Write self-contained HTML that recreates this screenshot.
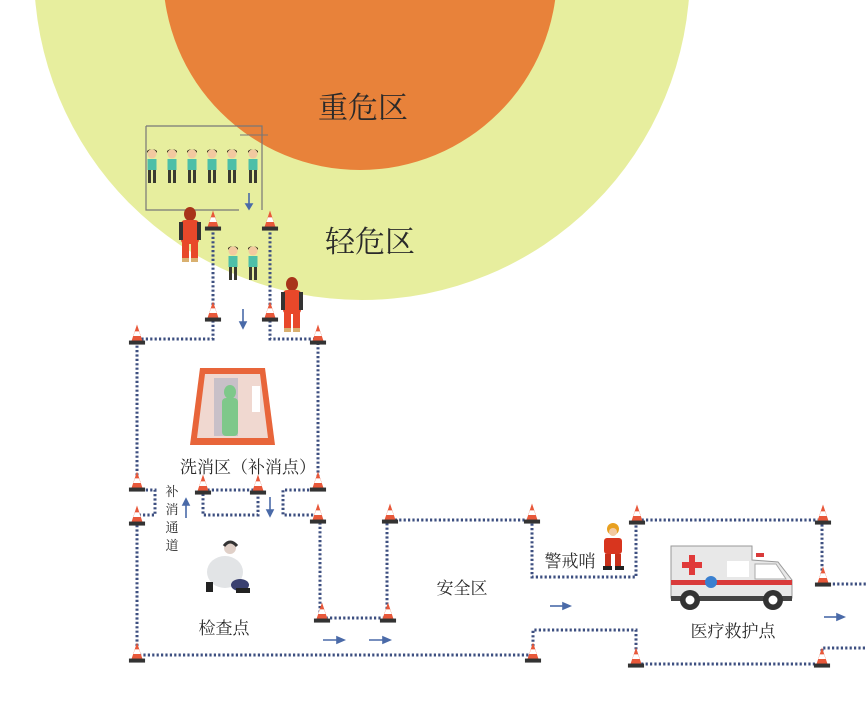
<!DOCTYPE html>
<html><head><meta charset="utf-8">
<style>
html,body{margin:0;padding:0;background:#fff;}
svg{display:block;}
.t{font-family:"Liberation Serif","Noto Serif CJK SC",serif;fill:#2a2a2a;}
</style></head>
<body>
<svg width="866" height="708" viewBox="0 0 866 708" xmlns="http://www.w3.org/2000/svg">
<defs>
<g id="cone" transform="scale(1.15)">
  <polygon points="-5,-2 0,-17 5,-2" fill="#e8583a"/>
  <polygon points="-3.2,-7 -1.8,-11 1.8,-11 3.2,-7" fill="#fff"/>
  <rect x="-7" y="-3" width="14" height="3.5" fill="#333"/>
</g>
<g id="kid">
  <circle cx="0" cy="-30" r="4.5" fill="#f2c9a0"/>
  <path d="M-5,-31 Q0,-39 5,-31 L5,-33 Q0,-37 -5,-33Z" fill="#3a2a20"/>
  <rect x="-4.5" y="-25" width="9" height="11" fill="#4dbfa8"/>
  <rect x="-4" y="-14" width="3" height="13" fill="#3a3a30"/>
  <rect x="1" y="-14" width="3" height="13" fill="#3a3a30"/>
</g>
<g id="hazmat">
  <ellipse cx="0" cy="-48" rx="6" ry="7" fill="#a8341a"/>
  <rect x="-9" y="-42" width="18" height="24" rx="4" fill="#e8482a"/>
  <rect x="-11" y="-40" width="4" height="18" fill="#333"/>
  <rect x="7" y="-40" width="4" height="18" fill="#333"/>
  <rect x="-8" y="-20" width="7" height="17" fill="#e8482a"/>
  <rect x="1" y="-20" width="7" height="17" fill="#e8482a"/>
  <rect x="-8" y="-4" width="7" height="4" fill="#d9b070"/>
  <rect x="1" y="-4" width="7" height="4" fill="#d9b070"/>
</g>
</defs>

<circle cx="362" cy="-28" r="328" fill="#e7ee9e"/>
<circle cx="360" cy="-27" r="197" fill="#e8823a"/>
<text class="t" x="363" y="118" font-size="30" text-anchor="middle" fill="#4a3020">重危区</text>
<text class="t" x="370" y="252" font-size="30" text-anchor="middle" fill="#3a3a2a">轻危区</text>

<path d="M146,126 H262 V210" fill="none" stroke="#777" stroke-width="1.2"/>
<path d="M146,126 V210 H239" fill="none" stroke="#777" stroke-width="1.2"/>
<path d="M240,135 H268" stroke="#777" stroke-width="1"/>

<use href="#kid" x="152" y="184"/><use href="#kid" x="172" y="184"/><use href="#kid" x="192" y="184"/>
<use href="#kid" x="212" y="184"/><use href="#kid" x="232" y="184"/><use href="#kid" x="253" y="184"/>
<use href="#kid" x="233" y="281"/><use href="#kid" x="253" y="281"/>
<use href="#hazmat" x="190" y="262"/>
<use href="#hazmat" x="292" y="332"/>

<g fill="none" stroke="#3d4f80" stroke-width="3" stroke-dasharray="2.2,2.2">
  <path d="M213,228 V339 H137 V480"/>
  <path d="M270,228 V339 H318 V480"/>
  <path d="M137,490 H155 V515 H137"/>
  <path d="M137,525 V655 H532"/>
  <path d="M203,490 H258 V515 H203 Z"/>
  <path d="M318,490 H283 V515 H318"/>
  <path d="M318,520 H320 V618 H387 V520 H532 V577 H636 V520 H822 V584 H866"/>
  <path d="M533,655 V630 H636 V664 H822 V648 H866"/>
</g>

<use href="#cone" x="213" y="230"/><use href="#cone" x="270" y="230"/>
<use href="#cone" x="213" y="321"/><use href="#cone" x="270" y="321"/>
<use href="#cone" x="137" y="344"/><use href="#cone" x="318" y="344"/>
<use href="#cone" x="137" y="491"/><use href="#cone" x="203" y="494"/>
<use href="#cone" x="258" y="494"/><use href="#cone" x="318" y="491"/>
<use href="#cone" x="137" y="525"/><use href="#cone" x="318" y="523"/>
<use href="#cone" x="390" y="523"/><use href="#cone" x="532" y="523"/>
<use href="#cone" x="322" y="622"/><use href="#cone" x="388" y="622"/>
<use href="#cone" x="137" y="662"/><use href="#cone" x="533" y="662"/>
<use href="#cone" x="637" y="524"/><use href="#cone" x="823" y="524"/>
<use href="#cone" x="823" y="586"/><use href="#cone" x="636" y="667"/>
<use href="#cone" x="822" y="667"/>

<g stroke="#4a6aa8" stroke-width="1.6" fill="#4a6aa8">
  <path d="M249,193 V207"/><path d="M246,204 L249,209 L252,204Z"/>
  <path d="M243,309 V325"/><path d="M240,322 L243,328 L246,322Z"/>
  <path d="M186,518 V502"/><path d="M183,505 L186,499 L189,505Z"/>
  <path d="M270,497 V513"/><path d="M267,510 L270,516 L273,510Z"/>
  <path d="M323,640 H340"/><path d="M337,637 L344,640 L337,643Z"/>
  <path d="M369,640 H386"/><path d="M383,637 L390,640 L383,643Z"/>
  <path d="M550,606 H566"/><path d="M563,603 L570,606 L563,609Z"/>
  <path d="M824,617 H840"/><path d="M837,614 L844,617 L837,620Z"/>
</g>

<polygon points="200,368 265,368 275,445 190,445" fill="#e8653a"/>
<polygon points="205,374 260,374 268,438 197,438" fill="#f0d8d0"/>
<rect x="214" y="378" width="24" height="58" fill="#c8c0c8"/>
<ellipse cx="230" cy="392" rx="6" ry="7" fill="#7ec88a"/>
<rect x="222" y="398" width="16" height="38" rx="4" fill="#7ec88a"/>
<rect x="252" y="386" width="8" height="26" fill="#fff"/>
<text class="t" x="248" y="473" font-size="17" text-anchor="middle">洗消区（补消点）</text>

<text class="t" font-size="13" x="172" y="496" text-anchor="middle">补</text>
<text class="t" font-size="13" x="172" y="514" text-anchor="middle">消</text>
<text class="t" font-size="13" x="172" y="532" text-anchor="middle">通</text>
<text class="t" font-size="13" x="172" y="550" text-anchor="middle">道</text>

<ellipse cx="225" cy="572" rx="18" ry="16" fill="#e2e4e6"/>
<circle cx="230" cy="548" r="6" fill="#e0d0c8"/>
<path d="M224,546 Q230,538 237,546" stroke="#333" stroke-width="3" fill="none"/>
<ellipse cx="240" cy="585" rx="9" ry="6" fill="#3a4070"/>
<rect x="206" y="582" width="7" height="10" fill="#222"/>
<rect x="236" y="588" width="14" height="5" fill="#222"/>
<text class="t" x="224" y="634" font-size="17" text-anchor="middle">检查点</text>

<text class="t" x="462" y="594" font-size="17" text-anchor="middle">安全区</text>
<text class="t" x="570" y="567" font-size="17" text-anchor="middle">警戒哨</text>

<circle cx="613" cy="529" r="6" fill="#e8a020"/>
<circle cx="613" cy="532" r="4" fill="#f2c9a0"/>
<rect x="604" y="538" width="18" height="16" rx="3" fill="#d8351e"/>
<rect x="605" y="554" width="6" height="14" fill="#c8301a"/>
<rect x="615" y="554" width="6" height="14" fill="#c8301a"/>
<rect x="603" y="566" width="9" height="4" fill="#222"/>
<rect x="615" y="566" width="9" height="4" fill="#222"/>

<path d="M671,546 H752 V560 L778,562 L792,580 V598 H671 Z" fill="#e8e8e8" stroke="#999" stroke-width="1"/>
<path d="M755,564 H776 L786,579 H755Z" fill="#fff" stroke="#aaa"/>
<rect x="727" y="561" width="22" height="16" fill="#fff"/>
<rect x="671" y="580" width="121" height="5" fill="#d93a3a"/>
<rect x="689" y="555" width="6" height="20" fill="#e03a3a"/>
<rect x="682" y="562" width="20" height="6" fill="#e03a3a"/>
<circle cx="711" cy="582" r="6" fill="#3a80d0"/>
<rect x="671" y="596" width="121" height="5" fill="#444"/>
<circle cx="690" cy="600" r="10" fill="#333"/><circle cx="690" cy="600" r="4.5" fill="#fff"/>
<circle cx="773" cy="600" r="10" fill="#333"/><circle cx="773" cy="600" r="4.5" fill="#fff"/>
<rect x="756" y="553" width="8" height="4" fill="#d93a3a"/>
<text class="t" x="733" y="637" font-size="17" text-anchor="middle">医疗救护点</text>
</svg>
</body></html>
